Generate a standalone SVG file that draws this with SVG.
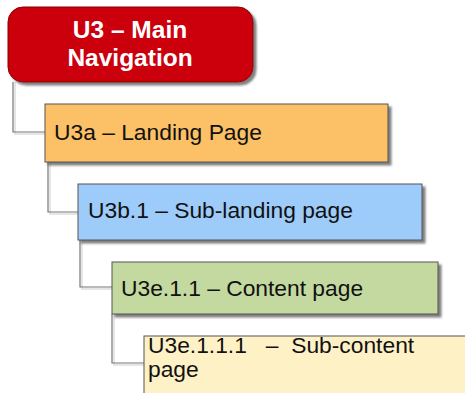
<svg xmlns="http://www.w3.org/2000/svg" width="465" height="393" viewBox="0 0 465 393">
<defs>
<filter id="sh" x="-10%" y="-10%" width="130%" height="140%">
<feDropShadow dx="3" dy="3" stdDeviation="1.2" flood-color="#555" flood-opacity="0.75"/>
</filter>
<style>
.box{stroke:#555;stroke-width:1;filter:url(#sh)}
.t{font-family:"Liberation Sans",Arial,sans-serif;font-size:22.8px;fill:#111}
.conn{fill:none;stroke:#777;stroke-width:1.2}
.connsh{fill:none;stroke:#ddd;stroke-width:1.5}
</style>
</defs>
<rect width="465" height="393" fill="#fff"/>
<g id="connectors">
<path class="connsh" d="M15 82 V134 H45"/>
<path class="conn" d="M13 82 V132 H45"/>
<path class="connsh" d="M50 162 V214 H78"/>
<path class="conn" d="M48 162 V212 H78"/>
<path class="connsh" d="M82 240 V289 H112"/>
<path class="conn" d="M80 240 V287 H112"/>
<path class="connsh" d="M114 314 V365 H144"/>
<path class="conn" d="M112 314 V363 H144"/>
</g>
<g id="u3">
<rect x="8" y="7" width="245" height="75" rx="15" fill="#CC0008" stroke="#8a0000" stroke-width="1" filter="url(#sh)"/>
<text x="130" y="38" text-anchor="middle" font-family="'Liberation Sans',Arial,sans-serif" font-size="24.5" font-weight="bold" fill="#fff">U3 – Main</text>
<text x="130" y="66" text-anchor="middle" font-family="'Liberation Sans',Arial,sans-serif" font-size="24.5" font-weight="bold" fill="#fff">Navigation</text>
</g>
<g id="u3a">
<rect class="box" x="45" y="104" width="343" height="58" fill="#FCC066"/>
<text class="t" x="54" y="140">U3a – Landing Page</text>
</g>
<g id="u3b1">
<rect class="box" x="78" y="184" width="344" height="56" fill="#9DCBFA"/>
<text class="t" x="88" y="218">U3b.1 – Sub-landing page</text>
</g>
<g id="u3e11">
<rect class="box" x="112" y="262" width="326" height="52" fill="#C4D99F"/>
<text class="t" x="121" y="296">U3e.1.1 – Content page</text>
</g>
<g id="u3e111">
<rect class="box" x="144" y="336" width="330" height="70" fill="#FFF1C6"/>
<text class="t" x="148" y="353" xml:space="preserve">U3e.1.1.1   –  Sub-content</text>
<text class="t" x="148" y="377">page</text>
</g>
</svg>
